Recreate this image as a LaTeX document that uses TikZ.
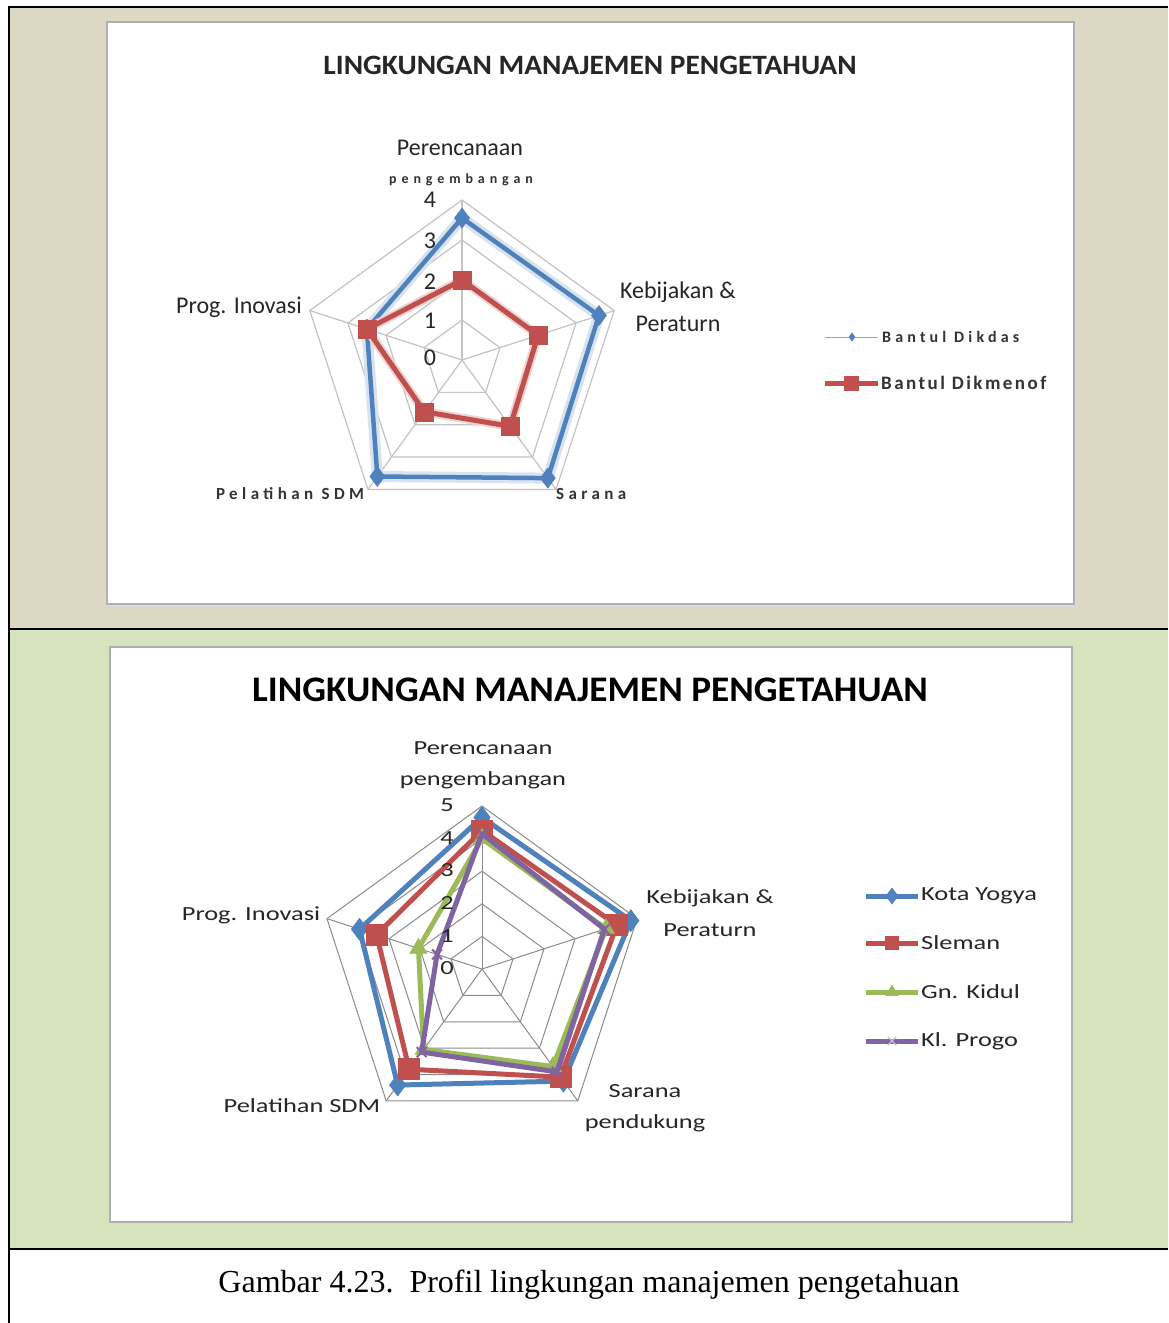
\documentclass[tikz,border=0pt]{standalone}
\usepackage{fontspec}
\usetikzlibrary{plotmarks}
\setmainfont{Liberation Serif}
\newfontfamily\fB{Carlito}[FakeStretch=1.32]
\newfontfamily\fT{Carlito}[FakeStretch=1.05]
\newfontfamily\fTb{Carlito}[FakeStretch=1.035]
\newfontfamily\fC{Carlito}
\newfontfamily\fW{Carlito}[LetterSpace=35]
\newfontfamily\fWa{Carlito}[LetterSpace=26]
\newfontfamily\fWb{Carlito}[LetterSpace=13]
\definecolor{cellA}{RGB}{221,216,195}
\definecolor{cellB}{RGB}{215,227,188}
\definecolor{xblue}{RGB}{79,129,189}
\definecolor{xred}{RGB}{192,80,77}
\definecolor{xgreen}{RGB}{155,187,89}
\definecolor{xpurple}{RGB}{128,100,162}
\definecolor{gridA}{RGB}{195,195,195}
\definecolor{gridB}{RGB}{140,140,140}
\definecolor{boxline}{RGB}{175,175,175}
\tikzset{
  frame/.style={line width=2.5pt, black},
  chartbox/.style={fill=white, draw=boxline, line width=1.5pt},
  tlab/.style={font=\fC\fontsize{24}{26}\selectfont, inner sep=0pt, text=black!85},
  tsmall/.style={font=\fW\bfseries\fontsize{14}{16}\selectfont, inner sep=0pt, text=black!80},
  blab/.style={font=\fB\fontsize{20}{22}\selectfont, inner sep=0pt, text=black!85},
  ttitle/.style={font=\fT\bfseries\fontsize{28}{30}\selectfont, inner sep=0pt, text=black!85},
  btitle/.style={font=\fTb\bfseries\fontsize{36}{38}\selectfont, inner sep=0pt},
  series/.style={line width=5pt, line join=round},
  mblue/.style={xblue, fill=xblue, line width=0.5pt},
  mred/.style={xred, fill=xred, line width=0.5pt},
  mgreen/.style={xgreen, fill=xgreen, line width=0.5pt},
  mpurple/.style={xpurple, line width=2pt},
}
\begin{document}
\begin{tikzpicture}[x=1pt,y=-1pt]
\useasboundingbox (0,0) rectangle (1168,1323);
\fill[white] (0,0) rectangle (1168,1323);
% table cells
\fill[cellA] (9,7) rectangle (1168,629);
\fill[cellB] (9,629) rectangle (1168,1249);
\draw[frame] (9,7) -- (1168,7);
\draw[frame] (9,629) -- (1168,629);
\draw[frame] (9,1249) -- (1168,1249);
\draw[frame] (9,6) -- (9,1323);
% chart boxes
\fill[black!15] (110,25) rectangle (1077,607);
\draw[chartbox] (107,22) rectangle (1074,604);
\draw[chartbox] (110,647) rectangle (1072,1222);

% ================= TOP CHART =================
\node[ttitle] (ttl) at (590,65) {LINGKUNGAN MANAJEMEN PENGETAHUAN};
\begin{scope}[shift={(462pt,-360pt)}, x=40pt, y=-40pt]
  \foreach \r in {1,2,3,4}
    \draw[gridA, line width=1.2pt] (-90:\r) -- (-18:\r) -- (54:\r) -- (126:\r) -- (198:\r) -- cycle;
  \foreach \a in {-90,-18,54,126,198}
    \draw[gridA, line width=1.2pt] (0,0) -- (\a:4);
  % blue halo + line
  \draw[xblue!22, line width=11pt, line join=round] (-90:3.55) -- (-18:3.6) -- (54:3.65) -- (126:3.6) -- (198:2.5) -- cycle;
  \draw[xblue, series, line width=4.5pt] (-90:3.55) -- (-18:3.6) -- (54:3.65) -- (126:3.6) -- (198:2.5) -- cycle;
  \draw[mblue] plot[only marks, mark=diamond*, mark size=10pt] coordinates {(-90:3.55) (-18:3.6) (54:3.65) (126:3.6) (198:2.5)};
  \draw[xred!25, line width=9pt, line join=round] (-90:2) -- (-18:2) -- (54:2.05) -- (126:1.6) -- (198:2.5) -- cycle;
  \draw[xred, series] (-90:2) -- (-18:2) -- (54:2.05) -- (126:1.6) -- (198:2.5) -- cycle;
  \draw[mred] plot[only marks, mark=square*, mark size=9pt] coordinates {(-90:2) (-18:2) (54:2.05) (126:1.6) (198:2.5)};
\end{scope}
\node[tlab] (tv0) at (430,358) {0};
\node[tlab] (tv1) at (430,321) {1};
\node[tlab] (tv2) at (430,282) {2};
\node[tlab] (tv3) at (430,241) {3};
\node[tlab] (tv4) at (430,200) {4};
\node[tlab] (tc1) at (460,148) {Perencanaan};
\node[tsmall] (tc1b) at (461,180) {pengembangan};
\node[tlab] (tc2) at (678,292) {Kebijakan \&};
\node[tlab] (tc2b) at (678,324) {Peraturn};
\node[tlab] (tc5) at (239,307) {Prog. Inovasi};
\node[tsmall, font=\fWa\bfseries\fontsize{17}{18}\selectfont] (tc4) at (290,494) {Pelatihan SDM};
\node[tsmall, font=\fWa\bfseries\fontsize{17}{18}\selectfont, anchor=west] (tc3) at (556,494) {Sarana};
% top legend
\coordinate (tl1a) at (825,337); \coordinate (tl1b) at (878,337);
\coordinate (tl2a) at (825,383); \coordinate (tl2b) at (878,383);
\draw[xblue!70, line width=0.8pt] (tl1a) -- (tl1b);
\draw[mblue] plot[only marks, mark=diamond*, mark size=4pt] coordinates {(852,337)};
\draw[xred, line width=5pt] (tl2a) -- (tl2b);
\draw[mred] plot[only marks, mark=square*, mark size=7pt] coordinates {(851,383)};
\node[tsmall, font=\fWa\bfseries\fontsize{16}{17}\selectfont, anchor=west] (tlg1) at (882,337) {Bantul Dikdas};
\node[tsmall, font=\fWb\bfseries\fontsize{19}{20}\selectfont, anchor=west, text=black!80] (tlg2) at (881,383) {Bantul Dikmenof};

% ================= BOTTOM CHART =================
\node[btitle] (btl) at (590,690) {LINGKUNGAN MANAJEMEN PENGETAHUAN};
\begin{scope}[shift={(482pt,-969pt)}, x=32.6pt, y=-32.6pt]
  \foreach \r in {1,2,3,4,5}
    \draw[gridB, line width=1pt] (-90:\r) -- (-18:\r) -- (54:\r) -- (126:\r) -- (198:\r) -- cycle;
  \foreach \a in {-90,-18,54,126,198}
    \draw[gridB, line width=1pt] (0,0) -- (\a:5);
  \draw[xblue, series] (-90:4.65) -- (-18:4.8) -- (54:4.25) -- (126:4.4) -- (198:3.95) -- cycle;
  \draw[mblue] plot[only marks, mark=diamond*, mark size=11pt] coordinates {(-90:4.65) (-18:4.8) (54:4.25) (126:4.4) (198:3.95)};
  \draw[xred, series] (-90:4.25) -- (-18:4.35) -- (54:4.1) -- (126:3.8) -- (198:3.4) -- cycle;
  \draw[mred] plot[only marks, mark=square*, mark size=10.5pt] coordinates {(-90:4.25) (-18:4.35) (54:4.1) (126:3.8) (198:3.4)};
  \draw[xgreen, series] (-90:4.0) -- (-18:4.0) -- (54:3.7) -- (126:3.05) -- (198:2.05) -- cycle;
  \draw[mgreen] plot[only marks, mark=triangle*, mark size=10pt] coordinates {(-90:4.0) (-18:4.0) (54:3.7) (126:3.05) (198:2.05)};
  \draw[xpurple, series] (-90:4.15) -- (-18:3.95) -- (54:3.9) -- (126:3.15) -- (198:1.45) -- cycle;
  \draw[mpurple] plot[only marks, mark=x, mark size=7pt] coordinates {(-90:4.15) (-18:3.95) (54:3.9) (126:3.15) (198:1.45)};
\end{scope}
\node[blab] (bv0) at (447,968) {0};
\node[blab] (bv1) at (447,936) {1};
\node[blab] (bv2) at (447,903) {2};
\node[blab] (bv3) at (447,870) {3};
\node[blab] (bv4) at (447,838) {4};
\node[blab] (bv5) at (447,805) {5};
\node[blab] (bc1) at (483,748) {Perencanaan};
\node[blab] (bc1b) at (483,780) {pengembangan};
\node[blab] (bc2) at (710,898) {Kebijakan \&};
\node[blab] (bc2b) at (710,930) {Peraturn};
\node[blab] (bc3) at (645,1091) {Sarana};
\node[blab] (bc3b) at (645,1123) {pendukung};
\node[blab] (bc4) at (302,1106) {Pelatihan SDM};
\node[blab] (bc5) at (251,915) {Prog. Inovasi};
% bottom legend
\coordinate (bl1a) at (866,896); \coordinate (bl1b) at (918,896);
\coordinate (bl2a) at (866,943); \coordinate (bl2b) at (918,943);
\coordinate (bl3a) at (866,992); \coordinate (bl3b) at (918,992);
\coordinate (bl4a) at (866,1041); \coordinate (bl4b) at (918,1041);
\draw[xblue, line width=5pt] (bl1a) -- (bl1b);
\draw[xred, line width=5pt] (bl2a) -- (bl2b);
\draw[xgreen, line width=5pt] (bl3a) -- (bl3b);
\draw[xpurple, line width=5pt] (bl4a) -- (bl4b);
\draw[mblue] plot[only marks, mark=diamond*, mark size=8pt] coordinates {(892,896)};
\draw[mred] plot[only marks, mark=square*, mark size=6.5pt] coordinates {(892,943)};
\draw[mgreen] plot[only marks, mark=triangle*, mark size=7pt] coordinates {(892,992)};
\draw[xpurple!45, line width=1.2pt] plot[only marks, mark=x, mark size=6pt] coordinates {(892,1041)};
\node[blab, anchor=west] (blg1) at (921,896) {Kota Yogya};
\node[blab, anchor=west] (blg2) at (921,943) {Sleman};
\node[blab, anchor=west] (blg3) at (921,992) {Gn. Kidul};
\node[blab, anchor=west] (blg4) at (921,1041) {Kl. Progo};

% caption
\node[inner sep=0pt, font=\fontsize{32}{34}\selectfont] (cap) at (589,1285) {Gambar 4.23.\ \ Profil lingkungan manajemen pengetahuan};
\end{tikzpicture}
\end{document}
